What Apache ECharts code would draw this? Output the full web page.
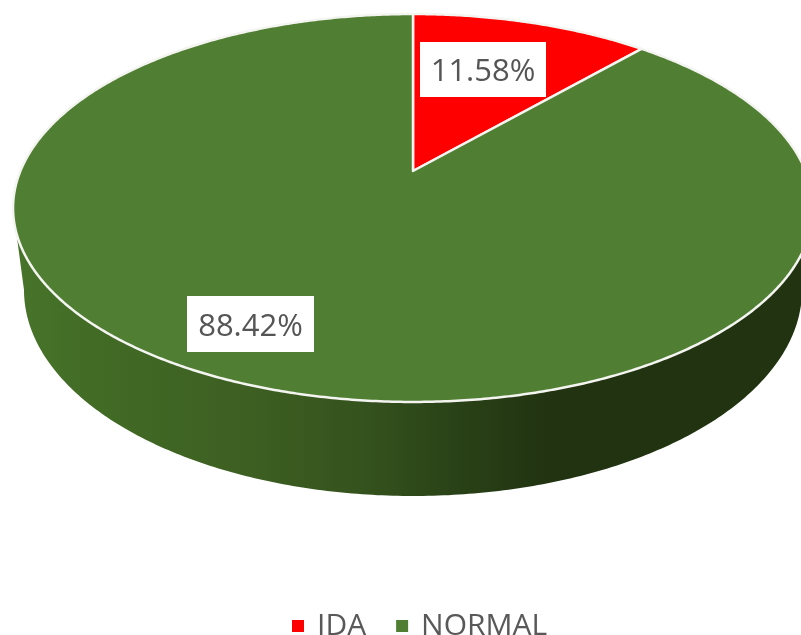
<!DOCTYPE html>
<html>
<head>
<meta charset="utf-8">
<style>html,body{margin:0;padding:0;background:#fff}#c{width:801px;height:635px}</style>
<script src="https://cdn.jsdelivr.net/npm/echarts@6/dist/echarts.min.js"></script>
</head>
<body>
<div id="c"></div>
<script>
const categories = ['IDA', 'NORMAL'];
const shares = [11.58, 88.42];
const labels = ['11.58%', '88.42%'];
const sliceColors = ['#ff0000', '#507f33'];

// Drawing geometry of the tilted disc (style, not data)
const APEX = {x: 413, y: 171};
const TOP = {cx: 413, cy: 208, rx: 400, ry: 194};
const BOTTOM = {cx: 413, cy: 290, rx: 389, ry: 206};
const PERSP = 0.1907, SX = 392.6, SY = 186.9;
const LABEL_BOX = [{x: 483, y: 69.5, w: 126, h: 55}, {x: 250.5, y: 324, w: 127, h: 56}];

function project(t) {
  const u = Math.sin(t), v = Math.cos(t), w = 1 + PERSP * v;
  return [APEX.x + SX * u / w, APEX.y - SY * v / w];
}
function ell(e, t) { return [e.cx + e.rx * Math.sin(t), e.cy - e.ry * Math.cos(t)]; }

function renderSlice(params, api) {
  const idx = params.seriesIndex;
  const total = shares.reduce((a, b) => a + b, 0);
  const before = shares.slice(0, idx).reduce((a, b) => a + b, 0);
  const a0 = before / total * 2 * Math.PI;
  const a1 = a0 + api.value(0) / total * 2 * Math.PI;
  const children = [];

  const near0 = Math.max(a0, Math.PI / 2), near1 = Math.min(a1, 1.5 * Math.PI);
  if (near1 > near0) {
    const pts = [], n = 240;
    for (let i = 0; i <= n; i++) pts.push(ell(BOTTOM, near0 + (near1 - near0) * i / n));
    for (let i = n; i >= 0; i--) pts.push(ell(TOP, near0 + (near1 - near0) * i / n));
    children.push({
      type: 'polygon', shape: {points: pts},
      style: {fill: {type: 'linear', x: 14, y: 0, x2: 801, y2: 0, global: true, colorStops: [
        {offset: 0, color: '#47742a'}, {offset: 0.12, color: '#416a25'},
        {offset: 0.3, color: '#3d5f22'}, {offset: 0.45, color: '#34521d'},
        {offset: 0.56, color: '#2a4217'}, {offset: 0.68, color: '#213311'},
        {offset: 1, color: '#213311'}]}, stroke: null}
    });
  }

  const top = [[APEX.x, APEX.y]], m = Math.max(8, Math.round((a1 - a0) * 120));
  for (let i = 0; i <= m; i++) top.push(project(a0 + (a1 - a0) * i / m));
  children.push({
    type: 'polygon', shape: {points: top},
    style: {fill: sliceColors[idx], stroke: '#f4f4f0', lineWidth: 2.5, lineJoin: 'round'}
  });

  const b = LABEL_BOX[idx];
  children.push({type: 'rect', z2: 10, shape: {x: b.x - b.w / 2, y: b.y - b.h / 2, width: b.w, height: b.h},
    style: {fill: '#ffffff'}});
  children.push({type: 'text', z2: 11, x: b.x, y: b.y + 3,
    style: {text: labels[idx], fill: '#555555', font: '31px "Open Sans"', align: 'center', verticalAlign: 'middle'}});
  return {type: 'group', children};
}

const chart = echarts.init(document.getElementById('c'), null, {renderer: 'canvas'});
chart.setOption({
  animation: false,
  backgroundColor: '#ffffff',
  legend: {
    data: categories, left: 292, top: 611, icon: 'rect', itemWidth: 12, itemHeight: 12, itemGap: 30,
    selectedMode: false, padding: 0,
    textStyle: {color: '#595959', fontFamily: '"Open Sans"', fontSize: 30, padding: [0, 0, 0, 8]}
  },
  series: categories.map((name, i) => ({
    type: 'custom', name, coordinateSystem: 'none', silent: true,
    itemStyle: {color: sliceColors[i]},
    data: [[shares[i]]], renderItem: renderSlice
  }))
});
</script>
</body>
</html>
